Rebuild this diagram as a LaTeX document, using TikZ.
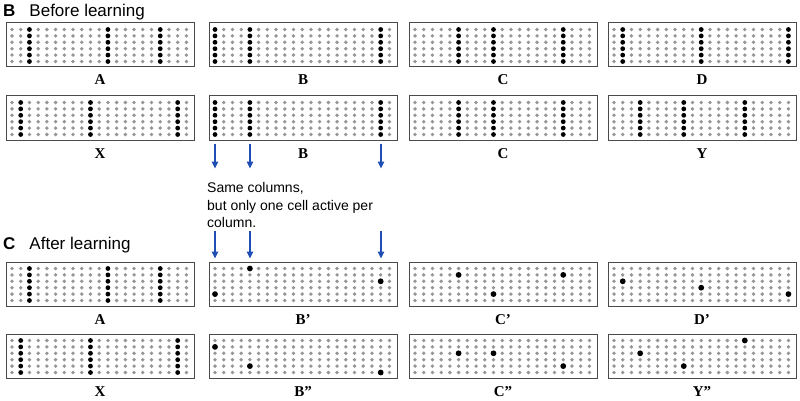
\documentclass[tikz,border=0pt]{standalone}
\usepackage{fontspec}
\setmainfont{Liberation Serif}
\setsansfont{Liberation Sans}
\usepackage{tikz}
\usetikzlibrary{arrows.meta,positioning,calc}
\definecolor{dotgray}{HTML}{969696}
\definecolor{framegray}{HTML}{4A4A4A}
\definecolor{arrowblue}{HTML}{1F4FB5}
\tikzset{
  gridbox/.style={draw=framegray,line width=1pt,minimum width=188pt,
                  minimum height=44pt,inner sep=0pt},
  offcell/.style={fill=dotgray},
  oncell/.style={fill=black},
  gridlabel/.style={font=\fontsize{15}{17}\selectfont\bfseries,anchor=base},
  heading/.style={font=\fontsize{17}{20}\selectfont\sffamily,anchor=base west,
                  inner sep=0pt},
  note/.style={font=\fontsize{14}{17.5}\selectfont\sffamily,align=left,
               anchor=north west,inner sep=0pt},
  bluearr/.style={-{Triangle[length=7pt,width=6.5pt]},line width=1.4pt,
                  draw=arrowblue}
}

% frame and grey cells of one 21 x 6 sheet
\newcommand{\sheetframe}[2]{%
  \node[gridbox] (#1) at (94,22) {};
  \foreach \cx in {1,...,21}
    \foreach \ry in {1,...,6}
      \fill[offcell] ({6+(\cx-1)*8.72},{6.5+(\ry-1)*6.4}) circle[radius=1.9pt];
  \node[gridlabel] (#1-lbl) at (94,62) {#2};}

% whole columns active
\newcommand{\columnsheet}[5]{%
  \begin{scope}[shift={(#2,#3)}]
    \sheetframe{#1}{#4}
    \foreach \cx in {#5}
      \foreach \ry in {1,...,6}
        \fill[oncell] ({6+(\cx-1)*8.72},{6.5+(\ry-1)*6.4}) circle[radius=2.4pt];
  \end{scope}}

% one cell per column active
\newcommand{\cellsheet}[5]{%
  \begin{scope}[shift={(#2,#3)}]
    \sheetframe{#1}{#4}
    \foreach \cx/\ry in {#5}
      \fill[oncell] ({6+(\cx-1)*8.72},{6.5+(\ry-1)*6.4}) circle[radius=2.9pt];
  \end{scope}}

\begin{document}
\begin{tikzpicture}[x=1pt,y=-1pt]
  \path[use as bounding box] (0,0) rectangle (800,401);

  \node[heading] (before) at (3,17) {\textbf{B}\hspace{14pt}Before learning};
  \node[heading] (after) at (3,249) {\textbf{C}\hspace{14pt}After learning};

  % before learning
  \columnsheet{pA}{6}{23}{A}{3,12,18}
  \columnsheet{pB}{209}{23}{B}{1,5,20}
  \columnsheet{pC}{409}{23}{C}{6,10,18}
  \columnsheet{pD}{608}{23}{D}{2,11,21}

  \columnsheet{qX}{6}{96}{X}{2,10,20}
  \columnsheet{qB}{209}{96}{B}{1,5,20}
  \columnsheet{qC}{409}{96}{C}{6,10,18}
  \columnsheet{qY}{608}{96}{Y}{4,9,16}

  % after learning
  \columnsheet{rA}{6}{262}{A}{3,12,18}
  \cellsheet{rB}{209}{262}{B’}{1/5,5/1,20/3}
  \cellsheet{rC}{409}{262}{C’}{6/2,10/5,18/2}
  \cellsheet{rD}{608}{262}{D’}{2/3,11/4,21/5}

  \columnsheet{sX}{6}{334}{X}{2,10,20}
  \cellsheet{sB}{209}{334}{B”}{1/2,5/5,20/6}
  \cellsheet{sC}{409}{334}{C”}{6/3,10/3,18/5}
  \cellsheet{sY}{608}{334}{Y”}{4/3,9/5,16/1}

  \node[note] (same) at (207,182.5)
    {Same columns,\\but only one cell active per\\column.};

  \coordinate (col1) at (215,0);
  \coordinate (col5) at (250,0);
  \coordinate (col20) at (381,0);

  \foreach \k in {col1,col5,col20} {
    \draw[bluearr] ($(qB.south -| \k)+(0,3)$) -- ($(same.north -| \k)+(0,-14)$);
    \draw[bluearr] ($(same.south -| \k)+(0,3)$) -- ($(rB.north -| \k)+(0,-3)$);
  }
\end{tikzpicture}
\end{document}
